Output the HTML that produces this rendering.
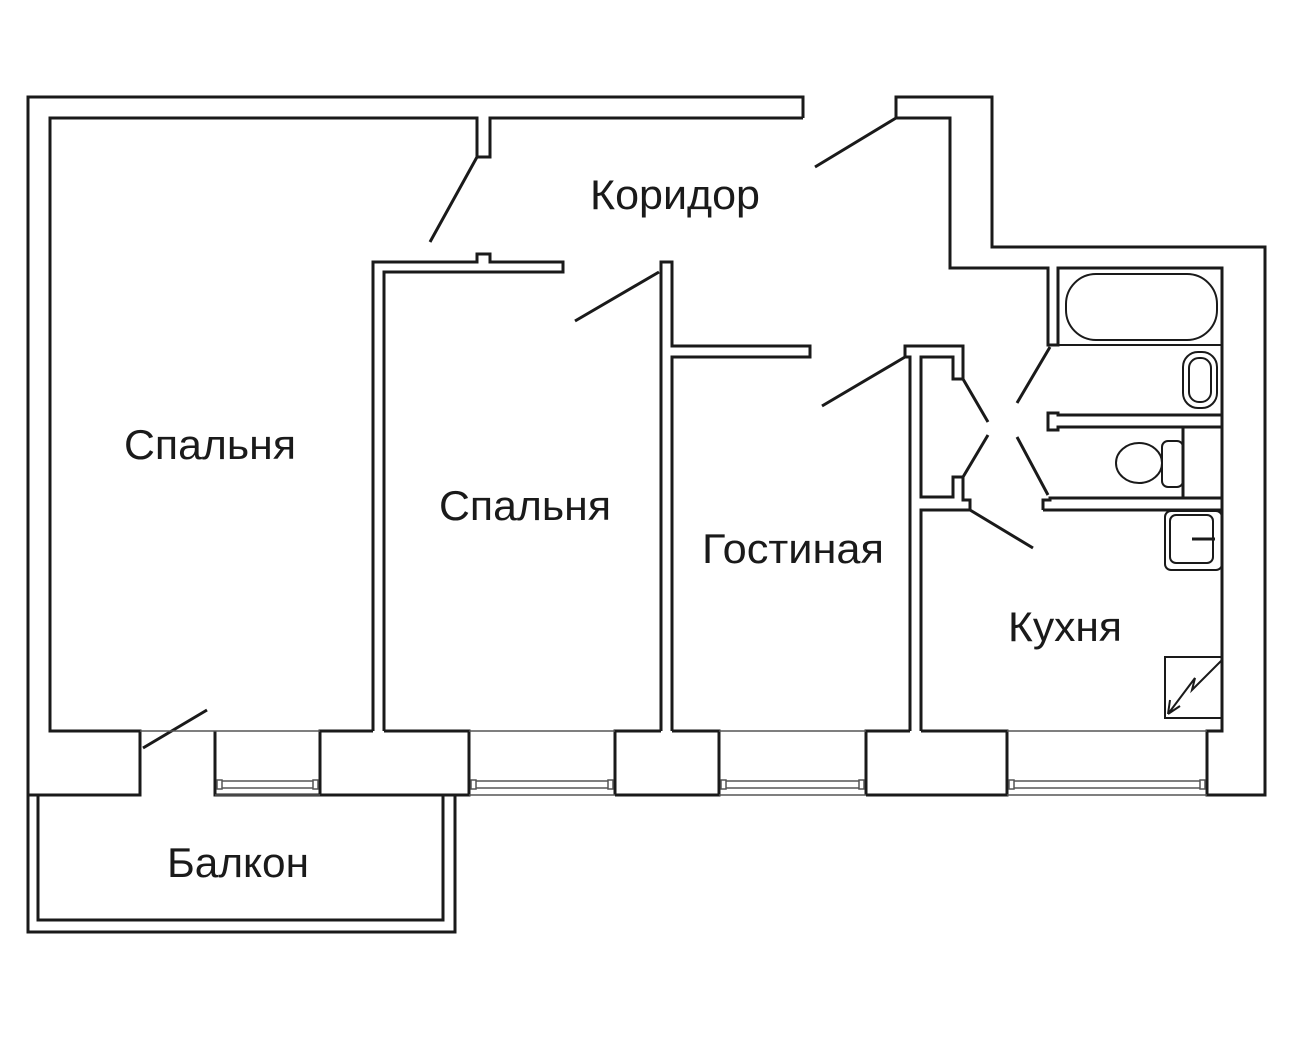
<!DOCTYPE html>
<html><head><meta charset="utf-8"><style>
html,body{margin:0;padding:0;background:#fff;}
svg{display:block}
text{font-family:"Liberation Sans",sans-serif;font-size:42px;fill:#1a1a1a}
</style></head><body>
<svg width="1290" height="1052" viewBox="0 0 1290 1052" xmlns="http://www.w3.org/2000/svg">
<rect width="1290" height="1052" fill="#fff"/>
<g fill="none" stroke="#1a1a1a" stroke-width="3" stroke-linejoin="miter">
<path d="M803,118 V97 H28 V932 H455 V795"/>
<path d="M38,795 V920 H443 V795"/>
<path d="M803,118 H490 V157 H477 V118 H50 V731 H140 V795 H28"/>
<path d="M896,118 V97 H992 V247 H1265 V795 H1207 V731 H1222 V268 H1058 V345 H1048 V268 H950 V118 H896"/>
<path d="M215,731 V795 H320"/>
<path d="M320,795 V731 H373 M384,731 H469 V795 H320"/>
<path d="M615,795 V731 H661 M672,731 H719 V795 H615"/>
<path d="M866,795 V731 H910 M921,731 H1007 V795 H866"/>
<path d="M373,731 V262 H477 V254 H490 V262 H563 V272 H384 V731"/>
<path d="M661,731 V262 H672 V346 H810 V357 H672 V731"/>
<path d="M910,731 V357 H905 V346 H963 V379 H953 V357 H921 V497 H953 V477 H963 V500 H970 V510 H921 V731"/>
<path d="M1043,510 H1222 M1043,510 V500 H1050 V498 H1222"/>
<path d="M1222,415 H1058 V413 H1048 V430 H1058 V427 H1222"/>
<path d="M1058,345 H1222" stroke-width="2"/>
<path d="M143,748 L207,710 M430,242 L477,157 M575,321 L659,272 M815,167 L896,118 M822,406 L905,357 M963,379 L988,422 M988,435 L963,477 M1017,403 L1050,347 M1017,437 L1048,495 M970,510 L1033,548"/>
<rect x="1066" y="274" width="151" height="66" rx="30" stroke-width="2"/>
<rect x="1183" y="352" width="34" height="56" rx="15" stroke-width="2"/>
<rect x="1189" y="358" width="22" height="44" rx="10" stroke-width="2"/>
<line x1="1183" y1="427" x2="1183" y2="498"/>
<ellipse cx="1139" cy="463" rx="23" ry="20" stroke-width="2"/>
<rect x="1162" y="441" width="21" height="46" rx="6" stroke-width="2"/>
<rect x="1165" y="511" width="57" height="59" rx="6" stroke-width="2"/>
<rect x="1170" y="515" width="43" height="48" rx="6" stroke-width="2"/>
<line x1="1192" y1="539" x2="1215" y2="539" stroke-width="3"/>
<rect x="1165" y="657" width="57" height="61" stroke-width="2"/>
<path d="M1222,660 L1192,690 L1195,678 L1168,714 M1168,714 L1170,700 M1168,714 L1180,706" stroke-width="2"/>
</g>
<g stroke="#555" fill="none">
<path d="M140,731 H215 M215,731 H320 M469,731 H615 M719,731 H866 M1007,731 H1207" stroke-width="1.5"/>
<g stroke-width="1.5">
<path d="M218,781 H318 M218,788 H318 M215,795 H320"/>
<path d="M472,781 H613 M472,788 H613 M469,795 H615"/>
<path d="M722,781 H864 M722,788 H864 M719,795 H866"/>
<path d="M1010,781 H1205 M1010,788 H1205 M1007,795 H1207"/>
</g>
<g fill="#fff" stroke-width="1.5">
<rect x="217" y="780" width="5" height="9"/><rect x="313" y="780" width="5" height="9"/>
<rect x="471" y="780" width="5" height="9"/><rect x="608" y="780" width="5" height="9"/>
<rect x="721" y="780" width="5" height="9"/><rect x="859" y="780" width="5" height="9"/>
<rect x="1009" y="780" width="5" height="9"/><rect x="1200" y="780" width="5" height="9"/>
</g>
</g>
<text x="590" y="209" textLength="170" lengthAdjust="spacingAndGlyphs">Коридор</text>
<text x="124" y="459" textLength="172" lengthAdjust="spacingAndGlyphs">Спальня</text>
<text x="439" y="520" textLength="172" lengthAdjust="spacingAndGlyphs">Спальня</text>
<text x="702" y="563" textLength="182" lengthAdjust="spacingAndGlyphs">Гостиная</text>
<text x="1008" y="641" textLength="114" lengthAdjust="spacingAndGlyphs">Кухня</text>
<text x="167" y="877" textLength="142" lengthAdjust="spacingAndGlyphs">Балкон</text>
</svg>
</body></html>
